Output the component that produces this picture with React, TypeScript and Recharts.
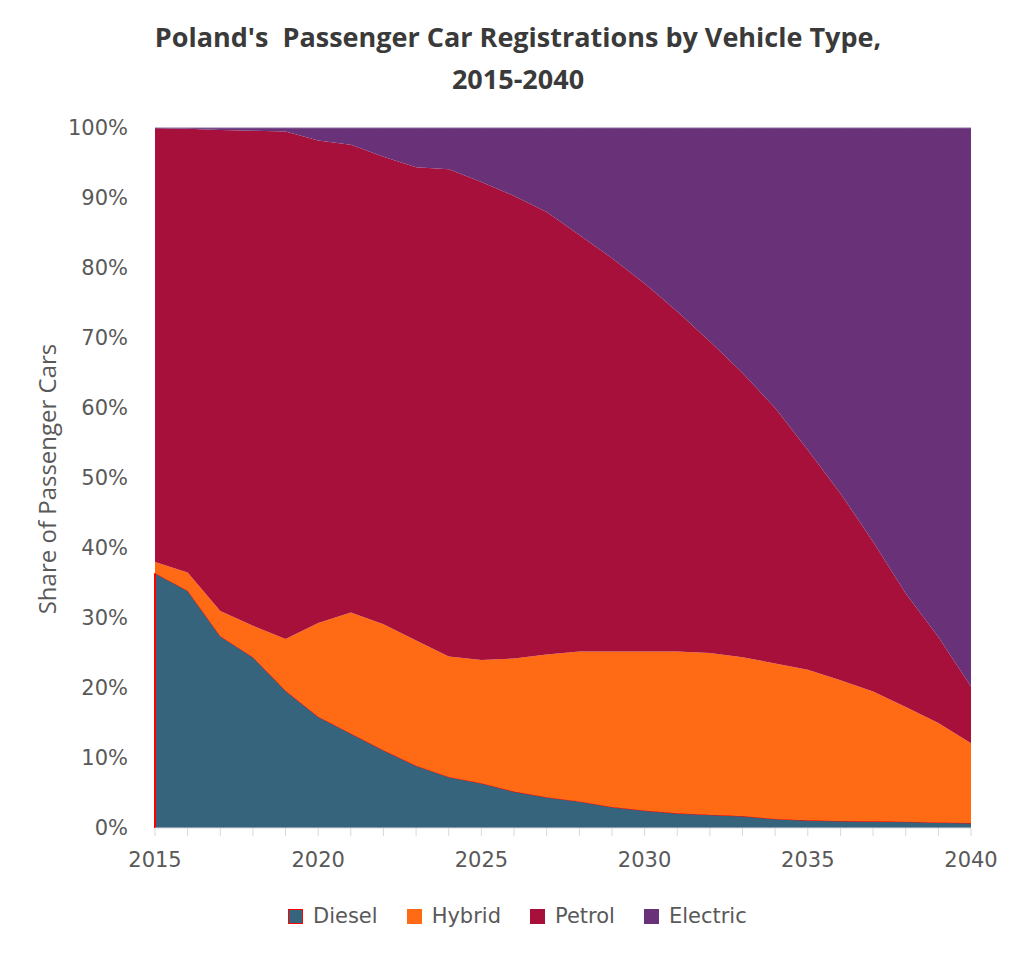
import { Area, AreaChart, ReferenceLine, XAxis, YAxis } from "recharts";

const YEARS = [
  2015, 2016, 2017, 2018, 2019, 2020, 2021, 2022, 2023, 2024, 2025, 2026, 2027,
  2028, 2029, 2030, 2031, 2032, 2033, 2034, 2035, 2036, 2037, 2038, 2039, 2040,
];

// shares in percent
const DIESEL = [
  36.4, 33.9, 27.4, 24.4, 19.6, 15.9, 13.5, 11.1, 8.9, 7.3, 6.4, 5.2, 4.4, 3.8,
  3.0, 2.5, 2.1, 1.9, 1.7, 1.3, 1.1, 1.0, 0.95, 0.9, 0.8, 0.7,
];
const HYBRID = [
  1.6, 2.6, 3.6, 4.5, 7.4, 13.4, 17.3, 18.0, 17.9, 17.2, 17.6, 19.0, 20.4, 21.4,
  22.2, 22.7, 23.1, 23.1, 22.7, 22.2, 21.5, 20.1, 18.55, 16.4, 14.2, 11.4,
];
const PETROL = [
  62.0, 63.4, 68.7, 70.7, 72.5, 68.9, 66.8, 66.8, 67.6, 69.6, 68.3, 66.1, 63.2,
  59.5, 56.2, 52.6, 48.6, 44.5, 40.6, 36.5, 31.4, 26.7, 21.4, 16.2, 12.3, 8.1,
];
const ELECTRIC = [
  0, 0.1, 0.3, 0.4, 0.5, 1.8, 2.4, 4.1, 5.6, 5.9, 7.7, 9.7, 12.0, 15.3, 18.6,
  22.2, 26.2, 30.5, 35.0, 40.0, 46.0, 52.2, 59.1, 66.5, 72.7, 79.8,
];

const Y_TICKS = [0, 10, 20, 30, 40, 50, 60, 70, 80, 90, 100];

const SERIES = [
  { key: "diesel", name: "Diesel", color: "#36647c", stroke: "#ff0000" },
  { key: "hybrid", name: "Hybrid", color: "#ff6a14", stroke: "none" },
  { key: "petrol", name: "Petrol", color: "#a7103a", stroke: "none" },
  { key: "electric", name: "Electric", color: "#693178", stroke: "#8a6a9c" },
];

const rows = YEARS.map((year, i) => ({
  year,
  diesel: DIESEL[i],
  hybrid: HYBRID[i],
  petrol: PETROL[i],
  electric: ELECTRIC[i],
}));

const TICK_FONT = "'DejaVu Sans', Verdana, sans-serif";
const GREY = "#595959";

export default function App() {
  return (
    <div
      style={{
        position: "absolute",
        left: 0,
        top: 0,
        width: 1024,
        height: 956,
        background: "#fff",
      }}
    >
      <div
        style={{
          position: "absolute",
          left: 0,
          top: 16,
          width: 1036,
          textAlign: "center",
          fontFamily: "'Open Sans', sans-serif",
          fontWeight: 700,
          fontSize: 27,
          lineHeight: "42px",
          color: "#3a3a3a",
          whiteSpace: "pre",
        }}
      >
        {"Poland's  Passenger Car Registrations by Vehicle Type,\n2015-2040"}
      </div>

      <div
        style={{
          position: "absolute",
          left: 46,
          top: 479,
          transform: "translate(-50%, -50%) rotate(-90deg)",
          fontFamily: "'Open Sans', sans-serif",
          fontSize: 24,
          color: GREY,
          whiteSpace: "nowrap",
        }}
      >
        Share of Passenger Cars
      </div>

      <AreaChart
        width={1024}
        height={956}
        data={rows}
        margin={{ top: 128, right: 53, bottom: 98, left: 75 }}
      >
        <XAxis
          dataKey="year"
          type="number"
          domain={[2015, 2040]}
          ticks={YEARS}
          interval={0}
          tickFormatter={(v: number) => (v % 5 === 0 ? String(v) : "")}
          height={30}
          axisLine={{ stroke: "#d9d9d9" }}
          tickLine={{ stroke: "#d9d9d9" }}
          tickSize={8}
          tickMargin={16}
          tick={{ fontFamily: TICK_FONT, fontSize: 21, fill: GREY }}
        />
        <YAxis
          type="number"
          domain={[0, 100]}
          ticks={Y_TICKS}
          interval={0}
          width={80}
          axisLine={false}
          tickLine={false}
          tickSize={6}
          tickMargin={21}
          tickFormatter={(v: number) => `${v}%`}
          tick={{ fontFamily: TICK_FONT, fontSize: 21, fill: GREY }}
        />
        {SERIES.map((s) => (
          <Area
            key={s.key}
            dataKey={s.key}
            name={s.name}
            stackId="share"
            type="linear"
            fill={s.color}
            fillOpacity={1}
            stroke={s.stroke}
            strokeWidth={1}
            isAnimationActive={false}
          />
        ))}
        <ReferenceLine
          segment={[
            { x: YEARS[0], y: 0 },
            { x: YEARS[0], y: DIESEL[0] },
          ]}
          stroke="#ff0000"
          strokeWidth={2}
        />
      </AreaChart>

      <div
        style={{
          position: "absolute",
          left: 288,
          top: 904,
          display: "flex",
          alignItems: "center",
          fontFamily: TICK_FONT,
          fontSize: 21,
          color: GREY,
        }}
      >
        {SERIES.map((s) => (
          <div
            key={s.key}
            style={{ display: "flex", alignItems: "center", marginRight: 29 }}
          >
            <span
              style={{
                display: "inline-block",
                width: 15,
                height: 15,
                boxSizing: "border-box",
                background: s.color,
                border: s.key === "diesel" ? "1.5px solid #ff0000" : "none",
                marginRight: 10,
              }}
            />
            <span>{s.name}</span>
          </div>
        ))}
      </div>
    </div>
  );
}
